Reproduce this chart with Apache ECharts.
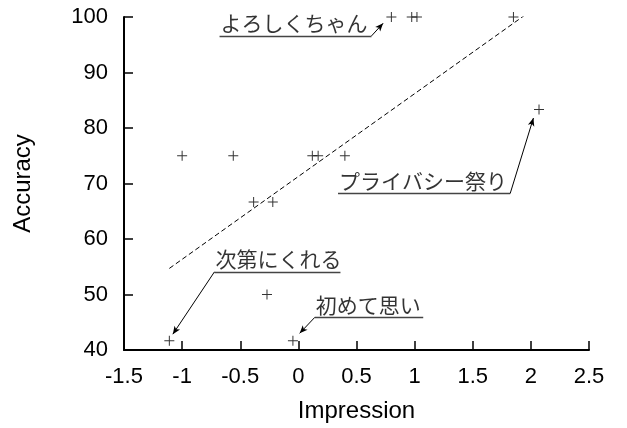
<!DOCTYPE html>
<html>
<head>
<meta charset="utf-8">
<script src="https://cdn.jsdelivr.net/npm/echarts@6/dist/echarts.min.js"></script>
<style>html,body{margin:0;padding:0;background:#fff}#c{width:627px;height:428px}</style>
</head>
<body>
<div id="c"></div>
<script>
// Scatter data: Impression (x) vs Accuracy (y)
var impression = [0.80, 0.975, 1.02, 1.85, 2.07, -1.0, -0.56, 0.12, 0.17, 0.40, -0.385, -0.22, -0.27, -1.11, -0.047];
var accuracy   = [100, 100, 100, 100, 83.33, 75, 75, 75, 75, 75, 66.67, 66.67, 50, 41.67, 41.67];
// Fitted trend line end points
var trendX = [-1.11, 2.08];
var trendY = [54.7, 102.3];
// Axis ticks
var xTicks = [-1.5, -1, -0.5, 0, 0.5, 1, 1.5, 2, 2.5];
var yTicks = [40, 50, 60, 70, 80, 90, 100];
// Annotations
var annTexts = ['よろしくちゃん', 'プライバシー祭り', '次第にくれる', '初めて思い'];
var annStart = [[-0.678, 96.59], [0.341, 68.2], [-0.722, 54.08], [0.141, 45.88]];
var annEnd   = [[0.629, 96.59], [1.822, 68.2], [0.362, 54.08], [1.074, 45.88]];
var annFromRight = [true, true, false, false];
var annTip   = [[0.729, 98.87], [2.022, 81.8], [-1.08, 42.85], [0.011, 43.0]];

var pts = impression.map(function (x, i) { return [x, accuracy[i]]; });
var trend = trendX.map(function (x, i) { return [x, trendY[i]]; });
var underlines = annStart.map(function (s, i) { return [{coord: s}, {coord: annEnd[i]}]; });
var leaders = annTip.map(function (t, i) { return [{coord: annFromRight[i] ? annEnd[i] : annStart[i]}, {coord: t}]; });
var labelData = annStart.map(function (s, i) { return {value: s, name: annTexts[i]}; });

var plus = 'path://M-0.5,-5h1v4.5h4.5v1h-4.5v4.5h-1v-4.5h-4.5v-1h4.5z';
var latin = '"Liberation Sans", Arial, Helvetica, sans-serif';

var chart = echarts.init(document.getElementById('c'), null, {renderer: 'canvas'});
chart.setOption({
  animation: false,
  backgroundColor: '#fff',
  grid: {left: 124, right: 38, top: 17, bottom: 77},
  xAxis: {
    type: 'value', min: xTicks[0], max: xTicks[xTicks.length - 1], interval: 0.5,
    name: 'Impression', nameLocation: 'middle', nameGap: 49,
    nameTextStyle: {fontFamily: latin, fontSize: 24, color: '#000'},
    axisLine: {onZero: false, lineStyle: {color: '#000', width: 2}},
    axisTick: {inside: true, length: 9, lineStyle: {color: '#000', width: 1.5}},
    axisLabel: {fontFamily: latin, fontSize: 22, color: '#000', margin: 16},
    splitLine: {show: false}
  },
  yAxis: {
    type: 'value', min: yTicks[0], max: yTicks[yTicks.length - 1], interval: 10,
    name: 'Accuracy', nameLocation: 'middle', nameGap: 89, nameRotate: 90,
    nameTextStyle: {fontFamily: latin, fontSize: 24, color: '#000'},
    axisLine: {onZero: false, lineStyle: {color: '#000', width: 2}},
    axisTick: {inside: true, length: 9, lineStyle: {color: '#000', width: 1.5}},
    axisLabel: {fontFamily: latin, fontSize: 22, color: '#000', margin: 16},
    splitLine: {show: false}
  },
  series: [
    {
      type: 'line', data: trend, symbol: 'none', clip: true,
      lineStyle: {color: '#000', width: 1, type: [5, 3]}, silent: true
    },
    {
      type: 'scatter', data: pts, symbol: plus, symbolSize: 10,
      itemStyle: {color: '#000'}, silent: true
    },
    {
      type: 'scatter', data: labelData, symbolSize: 0, silent: true,
      label: {
        show: true, position: 'right', distance: 0, align: 'left', verticalAlign: 'bottom',
        offset: [1, -1], formatter: function (p) { return p.name; },
        fontFamily: '"Noto Sans CJK JP", sans-serif', fontSize: 21, color: '#000', lineHeight: 23
      },
      markLine: {
        silent: true, symbol: ['none', 'none'], animation: false,
        label: {show: false},
        lineStyle: {color: '#444', width: 1.4, type: 'solid'},
        data: underlines
      }
    },
    {
      type: 'line', data: [], silent: true,
      markLine: {
        silent: true, symbol: ['none', 'arrow'], symbolSize: [5, 8], animation: false,
        label: {show: false},
        lineStyle: {color: '#000', width: 1, type: 'solid'},
        data: leaders
      }
    }
  ]
});
</script>
</body>
</html>
